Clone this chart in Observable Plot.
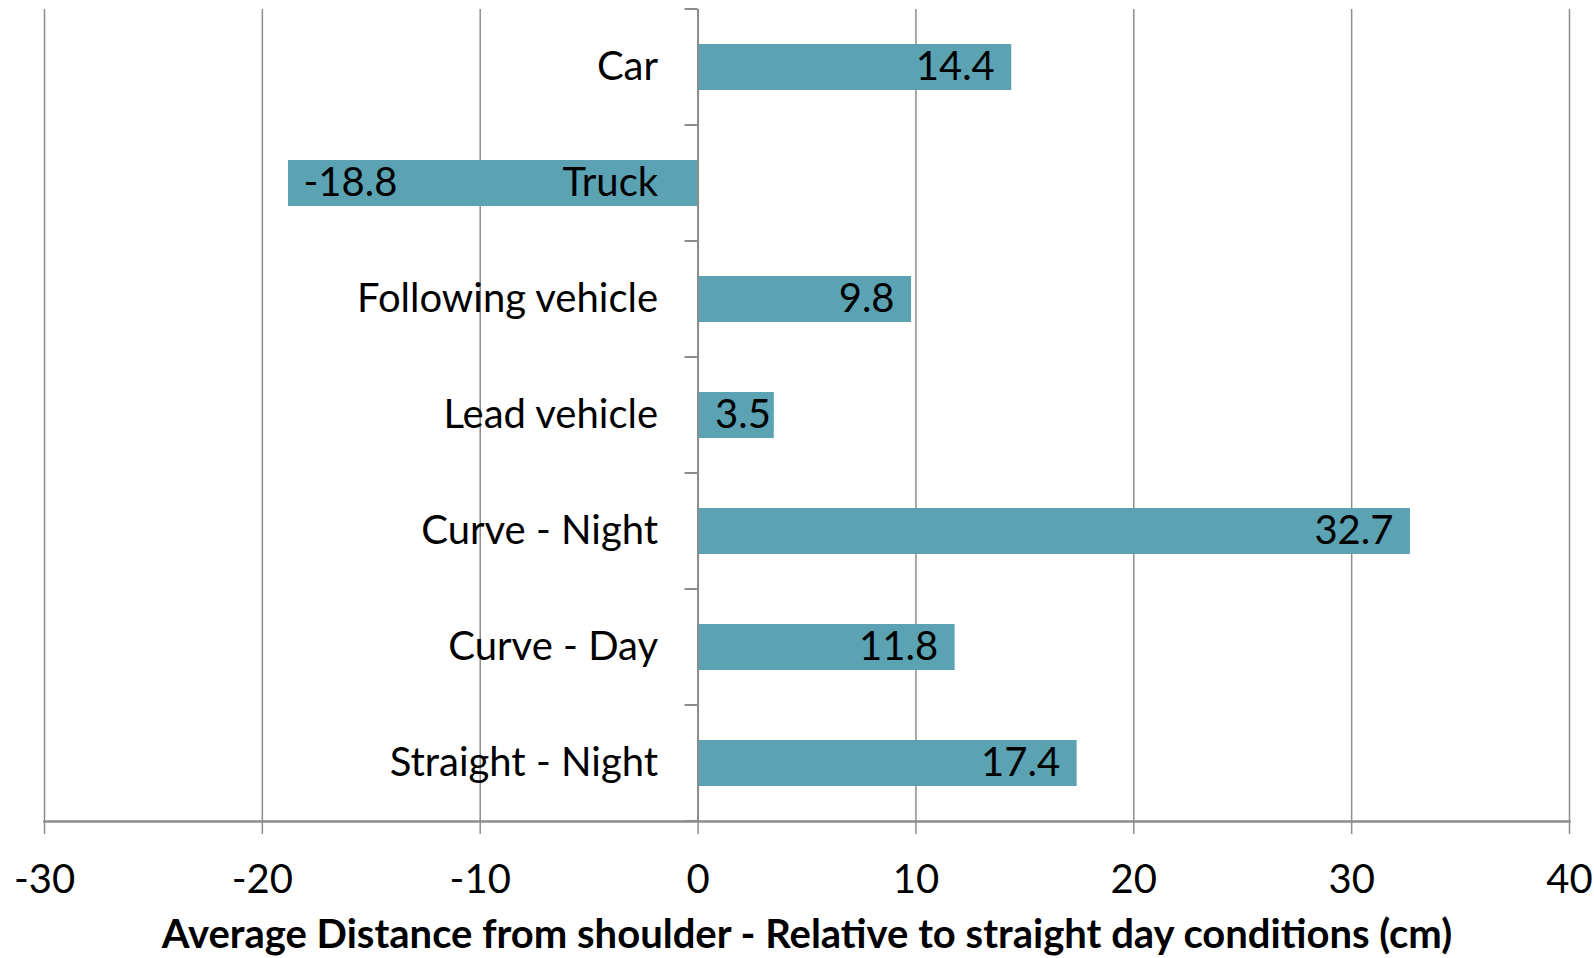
<!DOCTYPE html>
<html><head><meta charset="utf-8">
<script src="https://cdn.jsdelivr.net/npm/d3@7"></script>
<script src="https://cdn.jsdelivr.net/npm/@observablehq/plot@0.6"></script>
<style>body{margin:0;background:#fff}</style>
</head><body><div id="chart"></div>
<script>
const categories = ["Car", "Truck", "Following vehicle", "Lead vehicle", "Curve - Night", "Curve - Day", "Straight - Night"];
const values = [14.4, -18.8, 9.8, 3.5, 32.7, 11.8, 17.4];
const xTicks = [-30, -20, -10, 0, 10, 20, 30, 40];
const xLabel = "Average Distance from shoulder - Relative to straight day conditions (cm)";
const data = categories.map((c, i) => ({category: c, value: values[i]}));

const FONT = "Lato, 'Open Sans', sans-serif";
const GRID = "#8c8c8c";
const BAR = "#5BA3B3";
const FS = 40;

// y-axis tick marks at band boundaries, drawn at x = 0
function bandTicks(index, scales) {
  const g = d3.create("svg:g");
  const y = scales.y, x = scales.x;
  const bw = typeof y.bandwidth === "function" ? y.bandwidth() : 46;
  const step = typeof y.step === "function" ? y.step() : 116;
  const x0 = x(0);
  const bounds = [y(categories[0]) + bw / 2 - step / 2, ...categories.map(c => y(c) + bw / 2 + step / 2)];
  for (const b of bounds) {
    g.append("line").attr("x1", x0 - 13).attr("x2", x0).attr("y1", b).attr("y2", b)
      .attr("stroke", GRID).attr("stroke-width", 2);
  }
  return g.node();
}

// labels that fit inside the bar end are right-aligned; short bars start-aligned from 0
const fitsEnd = d => d.value >= 5;
const shortBar = d => d.value >= 0 && d.value < 5;

const chart = Plot.plot({
  width: 1594,
  height: 958,
  marginLeft: 44,
  marginRight: 25,
  marginTop: 9,
  marginBottom: 137,
  style: {fontFamily: FONT, background: "#fff"},
  x: {domain: [-30, 40], ticks: xTicks},
  y: {domain: categories, paddingInner: 0.6, paddingOuter: 0.3, axis: null},
  marks: [
    Plot.gridX(xTicks, {stroke: GRID, strokeOpacity: 1, strokeWidth: 1.5}),
    Plot.barX(data, {x: "value", y: "category", fill: BAR}),
    Plot.ruleX([0], {stroke: GRID, strokeWidth: 2}),
    bandTicks,
    Plot.frame({anchor: "bottom", stroke: GRID, strokeWidth: 2.5}),
    Plot.axisX(xTicks, {tickSize: 13, tickPadding: 30, fontSize: FS, stroke: GRID, strokeWidth: 1.5, fill: "#000", label: null, tickFormat: d => String(d).replace("−", "-")}),
    Plot.text(data, {x: 0, y: "category", text: "category", textAnchor: "end", dx: -40, fontSize: FS, fill: "#000", lineAnchor: "middle"}),
    Plot.text(data.filter(fitsEnd), {x: "value", y: "category", text: d => d.value.toFixed(1), textAnchor: "end", dx: -17, fontSize: FS, fill: "#000", lineAnchor: "middle"}),
    Plot.text(data.filter(shortBar), {x: 0, y: "category", text: d => d.value.toFixed(1), textAnchor: "start", dx: 17, fontSize: FS, fill: "#000", lineAnchor: "middle"}),
    Plot.text(data.filter(d => d.value < 0), {x: "value", y: "category", text: d => d.value.toFixed(1), textAnchor: "start", dx: 15, fontSize: FS, fill: "#000", lineAnchor: "middle"}),
    Plot.text([xLabel], {frameAnchor: "bottom", text: d => d, dy: 114, lineAnchor: "middle", fontSize: FS, fontWeight: "bold", fill: "#000"})
  ]
});
document.getElementById("chart").appendChild(chart);
</script>
</body></html>
